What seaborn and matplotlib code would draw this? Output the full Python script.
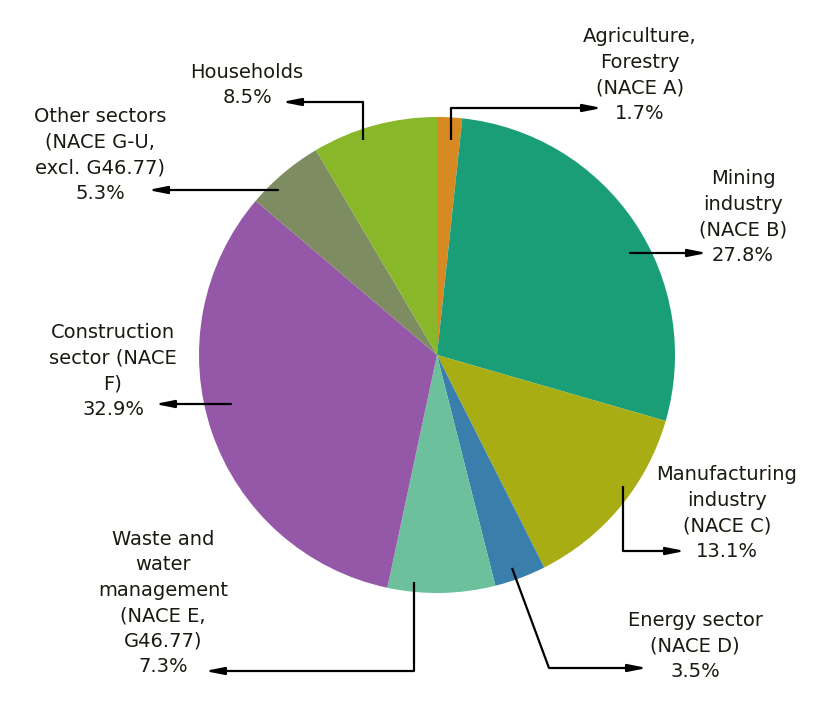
import matplotlib
matplotlib.use("Agg")
import matplotlib.pyplot as plt
import seaborn as sns

sns.set_style("white")
plt.rcParams['font.family'] = ['DejaVu Sans']

# ---- data ----
categories = [
    "Agriculture,\nForestry\n(NACE A)",
    "Mining\nindustry\n(NACE B)",
    "Manufacturing\nindustry\n(NACE C)",
    "Energy sector\n(NACE D)",
    "Waste and\nwater\nmanagement\n(NACE E,\nG46.77)",
    "Construction\nsector (NACE\nF)",
    "Other sectors\n(NACE G-U,\nexcl. G46.77)",
    "Households",
]
shares = [1.7, 27.8, 13.1, 3.5, 7.3, 32.9, 5.3, 8.5]
colors = ["#d88a22", "#1a9e78", "#a9ad14", "#3a7eab",
          "#6cc09c", "#9558a8", "#7d8c61", "#88b72a"]

W, H = 814, 713
fig = plt.figure(figsize=(W / 100, H / 100), dpi=100)
ax = fig.add_axes([0, 0, 1, 1])

def Y(p):
    return H - p

cx, cy, r = 437, 355, 238
ax.pie(shares, colors=colors, startangle=90, counterclock=False,
       center=(cx, Y(cy)), radius=r, frame=True,
       wedgeprops=dict(linewidth=0))
ax.set_xlim(0, W)
ax.set_ylim(0, H)
ax.set_aspect("equal")
ax.axis("off")

# label layout: (text center x, text center y, path points in pixel coords)
layout = [
    (640, 75,  [(451, 140), (451, 108), (602, 108)]),
    (743, 217, [(630, 253), (707, 253)]),
    (727, 513, [(623, 486), (623, 551), (685, 551)]),
    (695, 646, [(512, 568), (549, 668), (647, 668)]),
    (163, 603, [(414, 582), (414, 671), (205, 671)]),
    (113, 371, [(231, 404), (155, 404)]),
    (100, 155, [(278, 190), (148, 190)]),
    (247, 85,  [(363, 140), (363, 102), (282, 102)]),
]

txtcolor = "#1a1a12"
for cat, val, (tx, ty, pts) in zip(categories, shares, layout):
    ax.text(tx, Y(ty), f"{cat}\n{val:.1f}%", ha="center", va="center",
            fontsize=14, color=txtcolor, linespacing=1.43)
    xs = [p[0] for p in pts]
    ys = [Y(p[1]) for p in pts]
    if len(pts) > 2:
        ax.plot(xs[:-1], ys[:-1], color="black", lw=1.6,
                solid_capstyle="butt")
    ax.annotate("", xy=(xs[-1], ys[-1]), xytext=(xs[-2], ys[-2]),
                arrowprops=dict(arrowstyle="-|>,head_length=1.1,head_width=0.22",
                                color="black", lw=1.6, shrinkA=0, shrinkB=0))

fig.savefig("out.png", dpi=100, facecolor="white")
